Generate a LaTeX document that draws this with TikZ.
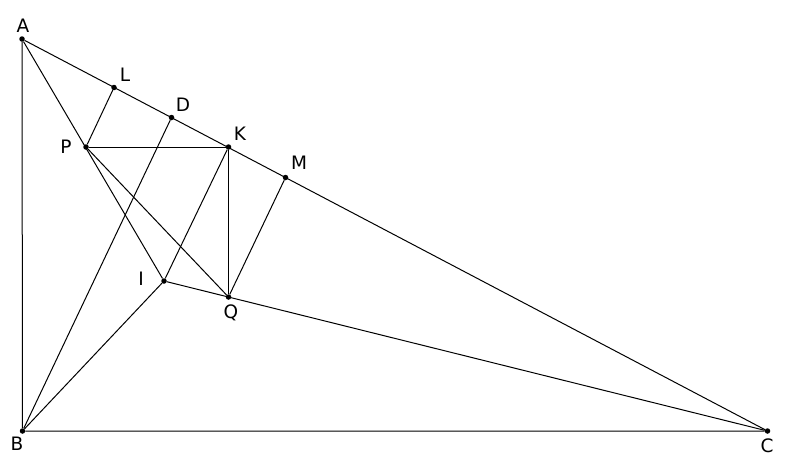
\documentclass[tikz,border=0pt]{standalone}
\usepackage{fontspec}
\setmainfont{DejaVu Sans}
\begin{document}
\begin{tikzpicture}[x=1pt,y=-1pt,
  pt/.style={circle,fill=black,inner sep=0pt,minimum size=5.5pt},
  lbl/.style={font=\fontsize{18.5}{20}\selectfont,inner sep=0pt},
  seg/.style={line width=1pt}]
\useasboundingbox (0,0) rectangle (786,463);

% triangle vertices
\node[pt] (A) at (22,39) {};
\node[pt] (B) at (22.5,431) {};
\node[pt] (C) at (767.5,431) {};

% points on AC
\node[pt] (L) at (114,87.5) {};
\node[pt] (D) at (171.5,117.5) {};
\node[pt] (K) at (228.5,147) {};
\node[pt] (M) at (285.5,177.5) {};

% inner points
\node[pt] (P) at (86,147) {};
\node[pt] (I) at (164,281) {};
\node[pt] (Q) at (228.5,297) {};

% sides
\draw[seg] (A) -- (B) -- (C) -- (A);

% cevians through I
\draw[seg] (A) -- (I);
\draw[seg] (B) -- (I);
\draw[seg] (I) -- (C);
\draw[seg] (B) -- (D);
\draw[seg] (K) -- (I);

% the small figure
\draw[seg] (P) -- (L);
\draw[seg] (P) -- (K);
\draw[seg] (P) -- (Q);
\draw[seg] (K) -- (Q);
\draw[seg] (Q) -- (M);

% labels
\node[lbl] (lA) at (23,26) {A};
\node[lbl] (lB) at (17,444) {B};
\node[lbl] (lC) at (767,446) {C};
\node[lbl] (lL) at (125,75) {L};
\node[lbl] (lD) at (183,105) {D};
\node[lbl] (lK) at (240,134) {K};
\node[lbl] (lM) at (299,163) {M};
\node[lbl] (lP) at (66,147) {P};
\node[lbl] (lI) at (141,279) {I};
\node[lbl] (lQ) at (231,313) {Q};
\end{tikzpicture}
\end{document}
